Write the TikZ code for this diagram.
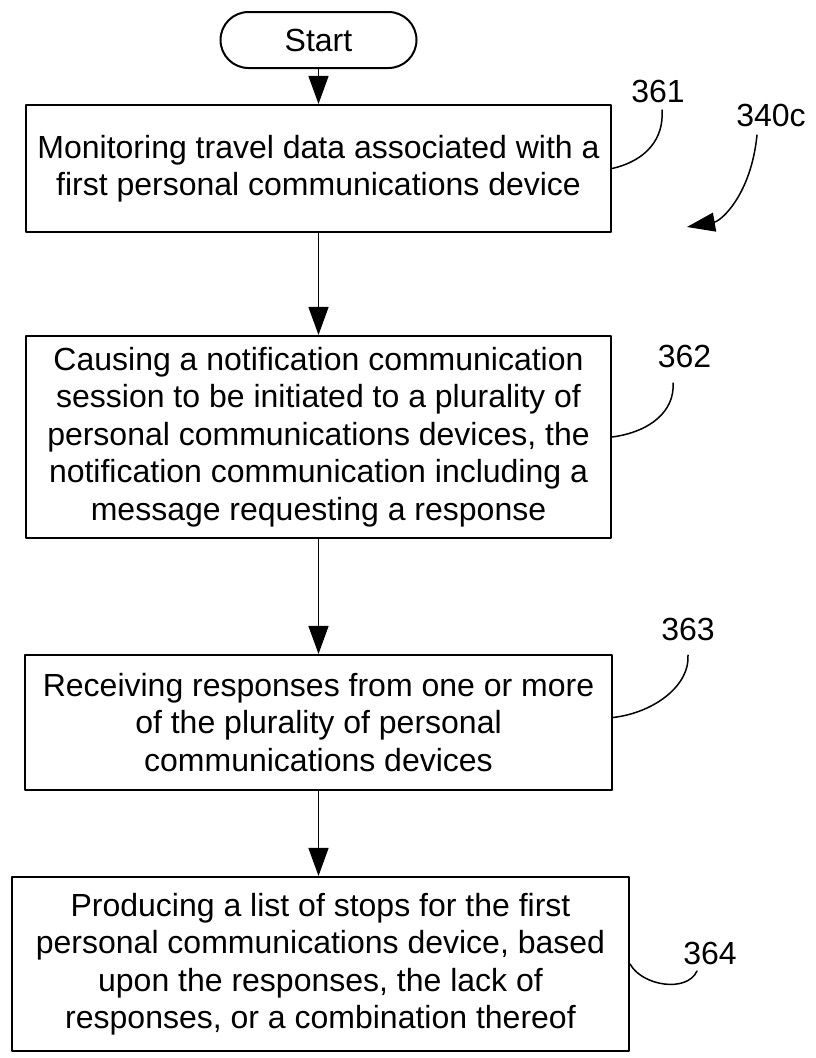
\documentclass[tikz,border=0pt]{standalone}
\usepackage{fontspec}
\setmainfont{Liberation Sans}
\usetikzlibrary{arrows.meta,positioning}
\tikzset{
  fc diagram/.style={x=1pt, y=-1pt, font=\fontsize{32}{37.5}\selectfont,
    line cap=round, line join=round},
  fc box/.style={draw, line width=2.1pt, align=center, inner sep=4pt,
    minimum width=585pt},
  fc start/.style={draw, line width=2pt, rounded corners=28pt,
    minimum width=196pt, minimum height=56pt, inner sep=0pt},
  fc arrow/.style={-{Triangle[length=28pt,width=20pt]}, line width=1.4pt},
  fc leader/.style={line width=1.5pt},
  fc pointer/.style={fc leader, -{Triangle[length=28pt,width=19pt]}},
  fc label/.style={inner sep=0pt}
}
\begin{document}
\begin{tikzpicture}[fc diagram]
\useasboundingbox (0,0) rectangle (815,1058);
\node[fc start] (start) at (318.5,40) {Start};
\node[fc box,minimum height=127pt] (monitor) at (318.5,168.5) {Monitoring travel data associated with a\\first personal communications device};
\node[fc box,minimum height=202pt] (notify) at (318.5,437) {Causing a notification communication\\session to be initiated to a plurality of\\personal communications devices, the\\notification communication including a\\message requesting a response};
\node[fc box,minimum width=587pt,minimum height=135pt] (receive) at (318.5,722.5) {Receiving responses from one or more\\of the plurality of personal\\communications devices};
\node[fc box,minimum width=617pt,minimum height=174pt] (produce) at (320.5,964) {Producing a list of stops for the first\\personal communications device, based\\upon the responses, the lack of\\responses, or a combination thereof};
\draw[fc arrow] (start.south) -- (start.south |- monitor.north);
\draw[fc arrow] (monitor.south) -- (monitor.south |- notify.north);
\draw[fc arrow] (notify.south) -- (notify.south |- receive.north);
\draw[fc arrow] (receive.south) -- (receive.south |- produce.north);
\node[fc label] (n361) at (658,91.5) {361};
\node[fc label] (n340) at (771,115) {340c};
\node[fc label] (n362) at (684.5,356.5) {362};
\node[fc label] (n363) at (688,629) {363};
\node[fc label] (n364) at (710,953) {364};
\coordinate (t361) at (662,110);
\coordinate (t362) at (673,383);
\coordinate (t363) at (688,655);
\coordinate (t364) at (697,971);
\coordinate (s340) at (757,135);
\coordinate (e340) at (687,227);
\draw[fc leader] (monitor.east) .. controls +(35,-8) and +(2,28) .. (t361);
\draw[fc leader] (notify.east) .. controls +(38,-5) and +(2,28) .. (t362);
\draw[fc leader] ([yshift=5pt]receive.east) .. controls +(42,-5) and +(2,30) .. (t363);
\draw[fc leader] (produce.east) .. controls +(12,22) and +(-10,22) .. (t364);
\draw[fc pointer] (s340) .. controls +(-6,60) and +(34,-6) .. (e340);
\end{tikzpicture}
\end{document}
